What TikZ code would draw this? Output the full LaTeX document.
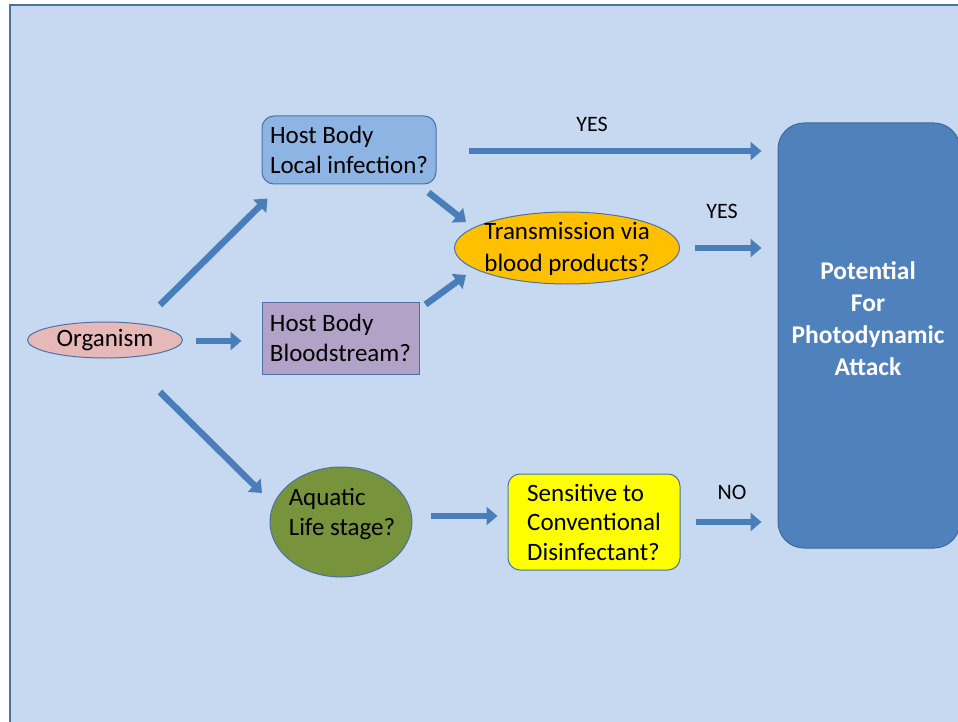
\documentclass[tikz,border=0pt]{standalone}
\usepackage{fontspec}
\setmainfont{Carlito}
\usetikzlibrary{arrows.meta,calc,shapes.geometric}
\definecolor{bgc}{HTML}{C6D9F0}
\definecolor{frame}{HTML}{4F6F9F}
\definecolor{edgec}{HTML}{4A72A8}
\definecolor{arrc}{HTML}{4A7EBB}
\definecolor{locc}{HTML}{8EB4E3}
\definecolor{bloodc}{HTML}{B3A2C7}
\definecolor{transc}{HTML}{FFC000}
\definecolor{orgc}{HTML}{E6B9B8}
\definecolor{aquac}{HTML}{77933C}
\definecolor{sensc}{HTML}{FFFF00}
\definecolor{potc}{HTML}{4F81BD}
\definecolor{potedge}{HTML}{3F6A9E}
\begin{document}
\begin{tikzpicture}[x=1pt,y=-1pt,
  txt/.style={font=\fontsize{25}{30}\selectfont, text=black},
  boxy/.style={txt, draw=edgec, line width=1pt, align=left, inner xsep=2pt, inner ysep=0pt},
  ell/.style={ellipse, draw=edgec, line width=1pt, inner sep=0pt},
  blk/.style={draw=arrc, line width=6.5pt, -{Triangle[length=11pt,width=18pt]}},
  lbl/.style={txt, font=\fontsize{22}{26}\selectfont}
]
\useasboundingbox (0,0) rectangle (958,722);
\fill[bgc] (10,5) rectangle (958,722);
\draw[frame, line width=1.5pt] (10,722) -- (10,5) -- (958,5);

% nodes
\node[boxy, fill=locc, rounded corners=12pt, minimum width=174pt,
      minimum height=68pt] (loc) at (349,150) {Host Body\\Local infection?};
\node[boxy, fill=bloodc, minimum width=157pt,
      minimum height=72pt] (blood) at (340.5,338) {Host Body\\Bloodstream?};
\node[ell, fill=transc, minimum width=225pt, minimum height=72pt,
      label={[txt, font=\fontsize{25}{32}\selectfont, align=center, yshift=-1pt]center:Transmission via\\blood products?}] (trans) at (567,248) {};
\node[ell, fill=orgc, minimum width=155pt, minimum height=36pt, txt] (org) at (105,340) {Organism};
\node[ell, fill=aquac, minimum width=142pt, minimum height=110pt,
      label={[txt, align=left, yshift=8pt, xshift=1pt]center:Aquatic\\Life stage?}] (aqua) at (341,522) {};
\node[boxy, fill=sensc, rounded corners=12pt, minimum width=172pt,
      minimum height=96pt, font=\fontsize{25}{29.5}\selectfont] (sens) at (594,522) {Sensitive to\\Conventional\\Disinfectant?};
\node[draw=potedge, line width=1pt, fill=potc, rounded corners=26pt,
      minimum width=182pt, minimum height=425pt,
      label={[text=white, font=\fontsize{25.5}{32}\selectfont\bfseries, align=center, yshift=17pt, xshift=-1pt]center:Potential\\For\\Photodynamic\\Attack}] (pot) at (869,335.5) {};

% connectors
\draw[blk] ($(org)+(55,-35)$) -- ($(loc.south west)+(6,14)$);
\draw[blk] ($(org.east)+(13,1)$) -- ($(blood.west |- org.east)+(-20,1)$);
\draw[blk] ($(org)+(55,52)$) -- ($(aqua)+(-79,-29)$);
\draw[blk] ($(loc.south east)+(-8,8)$) -- ($(trans)+(-101,-26)$);
\draw[blk] ($(blood.north east)+(6,3)$) -- ($(trans)+(-101,27)$);
\draw[blk] ($(loc.east)+(32,1)$) -- ($(pot.west |- loc.east)+(-16,1)$);
\draw[blk] ($(trans.east)+(15,0)$) -- ($(pot.west |- trans.east)+(-16,0)$);
\draw[blk] ($(aqua.east)+(18,-6)$) -- ($(sens.west)+(-10,-6)$);
\draw[blk] ($(sens.east)+(15,0)$) -- ($(pot.west |- sens.east)+(-16,0)$);

% labels
\node[lbl] (yes1) at (592,124) {YES};
\node[lbl] (yes2) at (722,211) {YES};
\node[lbl] (no1) at (732,492) {NO};
\end{tikzpicture}
\end{document}
